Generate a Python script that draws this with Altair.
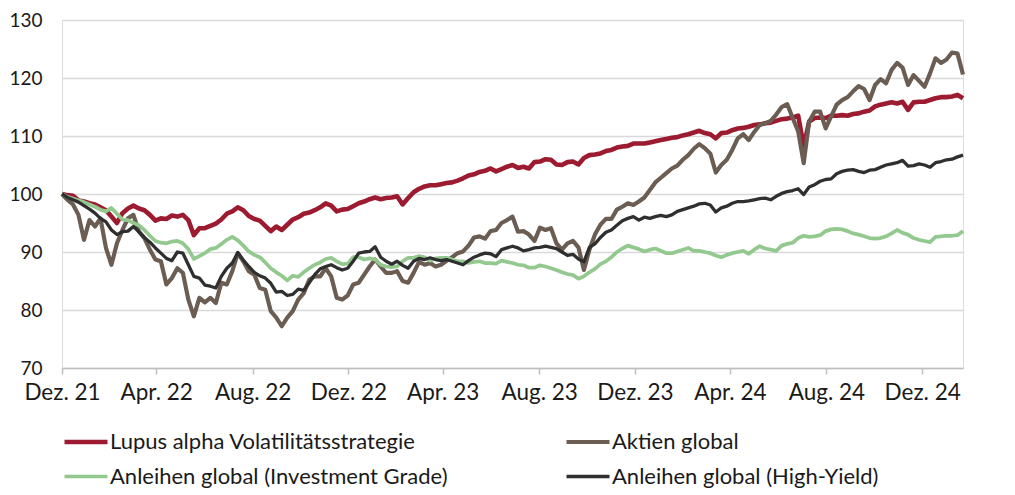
import altair as alt
import pandas as pd

# weekly observations starting 31.12.2021
dates = pd.date_range("2021-12-31", periods=165, freq="7D")

lupus = [
    100.0, 99.8, 99.7, 98.9, 98.7, 98.4, 98.2, 97.7, 97.2, 96.1,
    95.0, 96.7, 97.5, 98.0, 97.5, 97.2, 96.4, 95.4, 95.8, 95.7,
    96.3, 96.1, 96.4, 95.5, 92.9, 94.1, 94.1, 94.5, 94.9, 95.6,
    96.6, 97.0, 97.7, 97.2, 96.2, 95.7, 95.4, 94.5, 93.6, 94.4,
    93.8, 94.7, 95.6, 96.0, 96.6, 96.8, 97.2, 97.7, 98.4, 98.0,
    97.0, 97.3, 97.4, 97.9, 98.4, 98.7, 99.1, 99.4, 99.1, 99.3,
    99.4, 99.6, 98.2, 99.3, 100.3, 100.9, 101.3, 101.5, 101.5, 101.7,
    101.9, 102.0, 102.3, 102.7, 103.2, 103.4, 103.8, 104.0, 104.4, 103.9,
    104.3, 104.7, 105.0, 104.5, 104.7, 104.4, 105.5, 105.6, 106.0, 105.9,
    105.1, 105.0, 105.5, 105.6, 105.1, 106.2, 106.7, 106.8, 107.0, 107.4,
    107.6, 108.0, 108.2, 108.3, 108.7, 108.7, 108.7, 108.9, 109.1, 109.3,
    109.5, 109.7, 109.8, 110.1, 110.3, 110.6, 110.9, 110.5, 110.3, 109.6,
    110.5, 110.6, 111.0, 111.3, 111.4, 111.6, 111.9, 112.0, 112.2, 112.3,
    112.6, 112.9, 113.0, 113.2, 113.5, 108.2, 112.5, 113.1, 113.2, 113.1,
    113.5, 113.5, 113.6, 113.5, 113.8, 113.9, 114.2, 114.4, 115.1, 115.4,
    115.6, 115.8, 115.6, 115.9, 114.5, 115.8, 115.9, 115.9, 116.2, 116.5,
    116.7, 116.7, 116.8, 117.1, 116.5,
]

aktien = [
    100.0, 99.0, 98.2, 96.4, 92.1, 95.5, 94.4, 95.8, 90.7, 87.8,
    91.5, 93.8, 95.8, 96.4, 93.5, 92.4, 90.4, 88.7, 88.4, 84.4,
    85.5, 87.2, 86.4, 81.8, 78.9, 82.1, 81.3, 82.1, 81.2, 84.7,
    84.4, 86.7, 89.8, 88.4, 86.7, 86.1, 83.8, 83.5, 79.8, 78.7,
    77.2, 78.7, 79.8, 81.8, 82.9, 85.2, 85.8, 85.8, 87.2, 85.8,
    82.1, 81.8, 82.5, 84.4, 84.7, 86.1, 87.5, 88.7, 87.5, 86.4,
    86.4, 86.7, 85.0, 84.7, 86.4, 88.3, 87.8, 88.1, 87.5, 87.8,
    88.5, 89.1, 89.8, 90.1, 91.1, 92.5, 92.7, 92.3, 93.6, 93.8,
    95.0, 95.5, 96.1, 93.5, 93.6, 93.0, 91.9, 94.2, 93.8, 94.1,
    91.5, 90.4, 91.5, 91.9, 90.8, 86.9, 90.4, 93.0, 94.7, 95.7,
    95.7, 97.3, 97.8, 98.4, 98.1, 98.7, 99.4, 100.7, 102.0, 102.8,
    103.6, 104.4, 104.9, 105.9, 106.7, 107.8, 108.6, 107.9, 107.0, 103.7,
    105.0, 105.9, 107.6, 109.6, 110.3, 109.3, 110.7, 111.9, 112.2, 112.6,
    113.7, 115.0, 115.5, 113.1, 110.8, 105.3, 112.5, 114.2, 114.2, 111.3,
    113.4, 115.4, 116.2, 116.7, 117.7, 118.6, 118.1, 116.2, 118.8, 119.8,
    119.1, 121.4, 122.6, 121.8, 118.8, 120.5, 119.5, 118.5, 120.8, 123.4,
    122.6, 123.2, 124.4, 124.2, 120.6,
]

anleihen_ig = [
    100.0, 99.5, 99.2, 98.9, 98.6, 98.2, 97.8, 97.3, 97.0, 97.6,
    96.6, 95.6, 95.5, 95.0, 94.6, 93.8, 92.8, 91.9, 91.6, 91.5,
    91.8, 91.9, 91.5, 90.5, 88.8, 89.3, 89.8, 90.5, 90.7, 91.4,
    92.1, 92.6, 92.0, 91.1, 90.1, 89.5, 89.1, 88.2, 87.2, 86.5,
    85.9, 85.1, 85.9, 85.7, 86.5, 87.2, 87.8, 88.2, 88.8, 89.0,
    88.4, 87.9, 88.0, 89.1, 89.1, 88.7, 88.9, 88.7, 87.8, 87.5,
    87.4, 87.5, 88.4, 89.0, 89.0, 89.3, 89.1, 88.5, 88.9, 89.0,
    89.0, 88.7, 88.4, 88.4, 88.1, 88.3, 88.4, 88.1, 88.1, 88.0,
    88.5, 88.3, 88.1, 87.8, 87.7, 87.3, 87.3, 87.7, 87.5, 87.2,
    86.9, 86.5, 86.2, 86.0, 85.4, 85.8, 86.5, 87.1, 87.9, 88.4,
    89.1, 90.0, 90.6, 91.1, 90.8, 90.5, 90.1, 90.4, 90.6, 90.2,
    89.8, 89.8, 90.1, 90.4, 90.7, 90.2, 90.2, 90.0, 89.8, 89.4,
    89.1, 89.5, 89.8, 90.0, 90.2, 89.7, 90.4, 91.0, 90.6, 90.4,
    90.2, 91.1, 91.4, 91.6, 92.4, 92.8, 92.6, 92.7, 92.9, 93.6,
    93.9, 94.0, 93.9, 93.6, 93.2, 93.0, 92.7, 92.4, 92.3, 92.4,
    92.7, 93.2, 93.8, 93.3, 93.0, 92.4, 92.1, 91.9, 91.7, 92.6,
    92.7, 92.8, 92.8, 92.9, 93.6,
]

anleihen_hy = [
    100.0, 99.4, 99.0, 98.6, 98.0, 97.4, 96.7, 95.8, 95.2, 93.8,
    93.0, 93.5, 93.6, 94.4, 93.5, 92.5, 91.7, 90.7, 89.8, 88.9,
    88.5, 90.0, 89.8, 87.8, 85.8, 85.5, 84.3, 84.1, 83.8, 85.8,
    87.2, 88.1, 89.9, 88.6, 87.5, 86.5, 85.9, 85.5, 84.6, 83.1,
    83.2, 82.5, 82.7, 83.6, 83.4, 84.7, 86.1, 87.1, 87.5, 87.8,
    87.3, 86.9, 87.2, 88.4, 89.8, 90.0, 90.1, 90.9, 89.1, 88.4,
    87.9, 88.4, 87.7, 87.2, 88.4, 88.9, 88.7, 89.0, 88.7, 88.5,
    88.7, 88.4, 88.1, 87.8, 88.5, 89.1, 89.5, 89.8, 89.7, 89.2,
    90.4, 90.7, 91.0, 90.7, 90.2, 90.4, 90.7, 90.8, 91.0, 90.8,
    90.6, 90.0, 89.4, 89.6, 88.8, 88.3, 90.8, 91.4, 92.5, 93.4,
    93.8, 94.6, 95.4, 95.8, 96.1, 95.5, 96.0, 95.8, 96.1, 96.3,
    96.1, 96.4, 97.0, 97.3, 97.6, 97.9, 98.3, 98.4, 98.1, 96.9,
    97.6, 97.9, 98.4, 98.7, 98.7, 98.8, 99.0, 99.2, 99.3, 99.0,
    99.6, 100.1, 100.4, 100.6, 100.9, 99.9, 101.2, 101.6, 102.2, 102.5,
    102.6, 103.5, 103.9, 104.1, 104.2, 103.9, 103.7, 104.1, 104.2, 104.6,
    105.0, 105.2, 105.4, 105.8, 104.8, 104.9, 105.2, 105.0, 104.6, 105.4,
    105.6, 105.9, 106.0, 106.4, 106.7,
]

series_names = [
    "Lupus alpha Volatilitätsstrategie",
    "Aktien global",
    "Anleihen global (Investment Grade)",
    "Anleihen global (High-Yield)",
]
series_colors = ["#9C1B30", "#6B5D51", "#93C98F", "#2F2F2F"]
series_widths = [4.6, 3.3, 3.3, 3.3]

tick_dates = [
    alt.DateTime(year=2021, month=12, date=31),
    alt.DateTime(year=2022, month=4, date=30),
    alt.DateTime(year=2022, month=8, date=31),
    alt.DateTime(year=2022, month=12, date=31),
    alt.DateTime(year=2023, month=4, date=30),
    alt.DateTime(year=2023, month=8, date=31),
    alt.DateTime(year=2023, month=12, date=31),
    alt.DateTime(year=2024, month=4, date=30),
    alt.DateTime(year=2024, month=8, date=31),
    alt.DateTime(year=2024, month=12, date=31),
]
y_ticks = [70, 80, 90, 100, 110, 120, 130]

frames = []
for name, vals in zip(series_names, [lupus, aktien, anleihen_ig, anleihen_hy]):
    frames.append(pd.DataFrame({"date": dates, "value": vals, "series": name}))
df = pd.concat(frames, ignore_index=True)

FONT = "Lato"

x_enc = alt.X(
    "date:T",
    scale=alt.Scale(nice=False, padding=0),
    axis=alt.Axis(
        values=tick_dates,
        labelExpr="(month(datum.value)==11 ? 'Dez. ' : month(datum.value)==3 ? 'Apr. ' : 'Aug. ') + timeFormat(datum.value, '%y')",
        title=None,
        grid=False,
        domain=True,
        domainColor="#BFBFBF",
        domainWidth=1.5,
        ticks=True,
        tickColor="#BFBFBF",
        tickWidth=1.5,
        tickSize=6,
        labelPadding=7,
        labelFont=FONT,
        labelFontSize=22.5,
        labelColor="#1a1a1a",
        labelAlign="center",
        labelFlush=False,
        labelOverlap=False,
    ),
)
y_enc = alt.Y(
    "value:Q",
    scale=alt.Scale(domain=[70, 130], nice=False, zero=False),
    axis=alt.Axis(
        values=y_ticks,
        title=None,
        domain=False,
        ticks=False,
        tickSize=0,
        grid=True,
        gridColor="#D9D9D9",
        gridWidth=1.5,
        labelPadding=20,
        labelFont=FONT,
        labelFontSize=19,
        labelColor="#1a1a1a",
    ),
)
color_enc = alt.Color(
    "series:N",
    scale=alt.Scale(domain=series_names, range=series_colors),
    legend=alt.Legend(
        title=None,
        orient="none",
        direction="horizontal",
        legendX=0,
        legendY=398,
        columns=2,
        symbolType="stroke",
        symbolSize=1849,
        symbolStrokeWidth=4,
        labelFont=FONT,
        labelFontSize=22,
        labelColor="#1a1a1a",
        labelOffset=0,
        labelLimit=0,
        columnPadding=110,
        rowPadding=-14,
    ),
)
width_enc = alt.StrokeWidth(
    "series:N",
    scale=alt.Scale(domain=series_names, range=series_widths),
    legend=None,
)

layers = []
for name in series_names:
    layers.append(
        alt.Chart(df)
        .transform_filter(alt.datum.series == name)
        .mark_line(strokeJoin="round")
        .encode(x=x_enc, y=y_enc, color=color_enc, strokeWidth=width_enc)
    )

chart = (
    alt.layer(*layers)
    .properties(
        width=901,
        height=348,
        autosize=alt.AutoSizeParams(type="none"),
        padding={"left": 54, "top": 12, "right": 30, "bottom": 123},
    )
    .configure_view(stroke=None)
    .configure(background="white")
)

chart.save("out.html", embed_options={"renderer": "svg", "actions": False})
